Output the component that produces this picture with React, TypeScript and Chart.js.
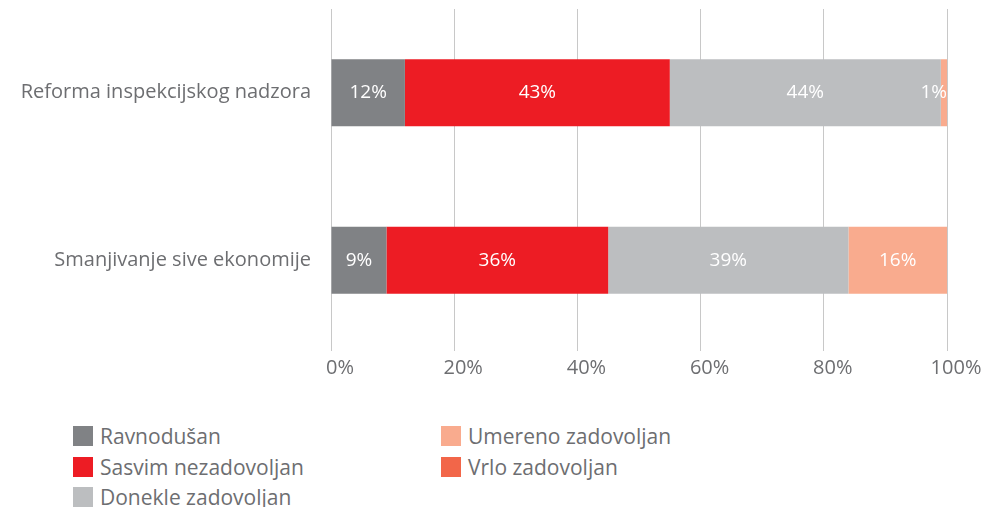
import React, { useEffect, useRef } from "react";
import { Chart, registerables } from "chart.js";

Chart.register(...registerables);

const categories = ["Reforma inspekcijskog nadzora", "Smanjivanje sive ekonomije"];
const seriesNames = ["Ravnodušan", "Sasvim nezadovoljan", "Donekle zadovoljan", "Umereno zadovoljan", "Vrlo zadovoljan"];
const ravnodusan = [12, 9];
const sasvimNezadovoljan = [43, 36];
const donekleZadovoljan = [44, 39];
const umerenoZadovoljan = [1, 16];
const vrloZadovoljan = [0, 0];
const seriesColors = ["#808285", "#ED1C24", "#BCBEC0", "#F9AB8E", "#F26649"];
const xTicks = [0, 20, 40, 60, 80, 100];

const FONT = "'Open Sans', 'Noto Sans', sans-serif";
const TEXT = "#6D6E71";

const labelPlugin = {
  id: "barLabels",
  afterDatasetsDraw(chart: any) {
    const ctx = chart.ctx;
    const area = chart.chartArea;
    ctx.save();
    ctx.font = `500 19px ${FONT}`;
    ctx.fillStyle = "#ffffff";
    ctx.textAlign = "center";
    ctx.textBaseline = "middle";
    chart.data.datasets.forEach((ds: any, di: number) => {
      const meta = chart.getDatasetMeta(di);
      meta.data.forEach((el: any, i: number) => {
        const v = ds.data[i];
        if (!v) return;
        const txt = `${v}%`;
        const w = ctx.measureText(txt).width;
        let cx = (el.x + el.base) / 2;
        if (cx + w / 2 > area.right) cx = area.right - w / 2;
        ctx.fillText(txt, cx, el.y);
      });
    });
    ctx.restore();
  },
};

export default function App() {
  const ref = useRef<HTMLCanvasElement>(null);
  useEffect(() => {
    if (!ref.current) return;
    const data = [ravnodusan, sasvimNezadovoljan, donekleZadovoljan, umerenoZadovoljan, vrloZadovoljan];
    const chart = new Chart(ref.current, {
      type: "bar",
      data: {
        labels: categories,
        datasets: seriesNames.map((n, i) => ({
          label: n,
          data: data[i],
          backgroundColor: seriesColors[i],
          borderWidth: 0,
          barPercentage: 0.8,
          categoryPercentage: 0.5,
        })),
      },
      options: {
        indexAxis: "y",
        animation: false,
        responsive: false,
        maintainAspectRatio: false,
        layout: { padding: { top: 9, right: 36, left: 0, bottom: 0 } },
        plugins: { legend: { display: false }, tooltip: { enabled: false } },
        scales: {
          x: {
            stacked: true,
            min: 0,
            max: 100,
            afterBuildTicks: (s: any) => {
              s.ticks = xTicks.map((v) => ({ value: v }));
            },
            afterFit: (s: any) => {
              s.height = 56;
              s.paddingLeft = 0;
              s.paddingRight = 0;
            },
            border: { display: false },
            grid: { color: "#C8C8C8", lineWidth: 1, tickLength: 7, drawTicks: true },
            ticks: {
              color: TEXT,
              font: { family: FONT, size: 20, weight: "500" },
              padding: 5,
              labelOffset: 9,
              callback: (v: any) => `${v}%`,
            },
          },
          y: {
            stacked: true,
            afterFit: (s: any) => {
              s.width = 331;
              s.paddingTop = 0;
              s.paddingBottom = 0;
            },
            border: { display: false },
            grid: { display: false },
            ticks: {
              color: TEXT,
              font: { family: FONT, size: 20, weight: "500" },
              padding: 12,
            },
          },
        },
      },
      plugins: [labelPlugin],
    });
    return () => chart.destroy();
  }, []);

  const legendPos = [
    { left: 73, top: 426 },
    { left: 73, top: 457 },
    { left: 73, top: 487 },
    { left: 441, top: 426 },
    { left: 441, top: 457 },
  ];

  return (
    <div style={{ position: "absolute", left: 0, top: 0, width: 983, height: 507, background: "#fff", overflow: "hidden" }}>
      <canvas ref={ref} width={983} height={400} style={{ position: "absolute", left: 0, top: 0, width: 983, height: 400 }} />
      {seriesNames.map((n, i) => (
        <div
          key={n}
          style={{
            position: "absolute",
            left: legendPos[i].left,
            top: legendPos[i].top,
            height: 20,
            display: "flex",
            alignItems: "center",
            fontFamily: FONT,
            fontSize: 21,
            fontWeight: 500,
            color: TEXT,
            whiteSpace: "nowrap",
          }}
        >
          <span style={{ display: "inline-block", width: 20, height: 20, background: seriesColors[i], marginRight: 7, flex: "none" }} />
          <span>{n}</span>
        </div>
      ))}
    </div>
  );
}
